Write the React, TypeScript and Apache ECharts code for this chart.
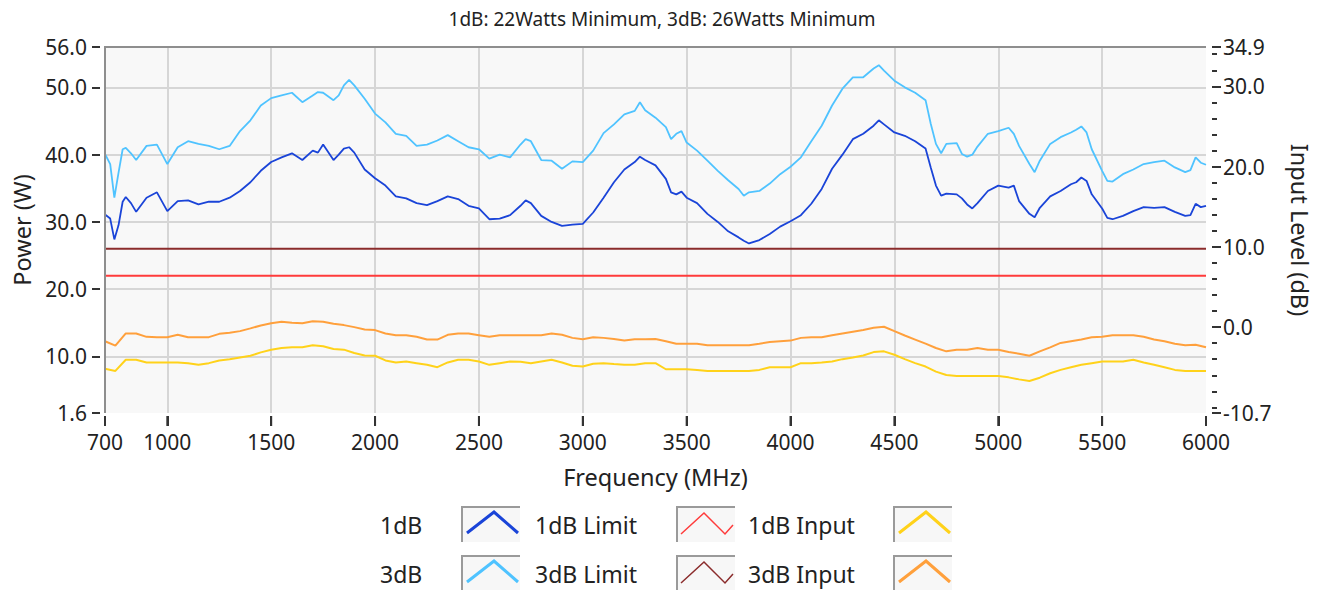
import React, { useEffect, useRef } from 'react';
import * as echarts from 'echarts';

const TITLE = '1dB: 22Watts Minimum, 3dB: 26Watts Minimum';
const X_NAME = 'Frequency (MHz)';
const Y_LEFT_NAME = 'Power (W)';
const Y_RIGHT_NAME = 'Input Level (dB)';

const X_TICKS = [700, 1000, 1500, 2000, 2500, 3000, 3500, 4000, 4500, 5000, 5500, 6000];
const LEFT_TICKS = [1.6, 10, 20, 30, 40, 50, 56];
const RIGHT_TICKS = [-10.7, 0, 10, 20, 30, 34.9];
const RIGHT_MINOR = [-10, -8, -6, -4, -2, 2, 4, 6, 8, 12, 14, 16, 18, 22, 24, 26, 28, 32, 34];

// Frequencies (MHz) for the power curves
const F_PWR = [
  700, 725, 745, 765, 785, 800, 825, 850, 900, 950,
  1000, 1050, 1100, 1150, 1200, 1250, 1300, 1350, 1400, 1450,
  1500, 1550, 1600, 1650, 1700, 1725, 1750, 1800, 1825, 1850,
  1875, 1900, 1950, 2000, 2050, 2100, 2150, 2200, 2250, 2300,
  2350, 2400, 2450, 2500, 2550, 2600, 2650, 2700, 2725, 2750,
  2800, 2850, 2900, 2950, 3000, 3050, 3100, 3150, 3200, 3250,
  3275, 3300, 3350, 3400, 3425, 3450, 3475, 3500, 3550, 3600,
  3650, 3700, 3750, 3775, 3800, 3850, 3900, 3950, 4000, 4050,
  4100, 4150, 4200, 4250, 4300, 4350, 4400, 4425, 4450, 4500,
  4550, 4600, 4650, 4675, 4700, 4725, 4750, 4800, 4825, 4850,
  4875, 4900, 4950, 5000, 5050, 5075, 5100, 5150, 5175, 5200,
  5250, 5300, 5350, 5375, 5400, 5425, 5450, 5500, 5525, 5550,
  5600, 5650, 5700, 5750, 5800, 5850, 5900, 5925, 5950, 5975,
  6000,
];

// 3dB compression power (W)
const P_3DB = [
  40.1, 38.6, 33.6, 37.3, 40.8, 41.0, 40.2, 39.2, 41.3, 41.5,
  38.6, 41.1, 42.0, 41.6, 41.3, 40.8, 41.3, 43.5, 45.1, 47.3,
  48.4, 48.8, 49.2, 47.8, 48.8, 49.3, 49.2, 48.1, 48.8, 50.3,
  51.1, 50.3, 48.3, 46.1, 44.8, 43.1, 42.8, 41.3, 41.5, 42.1,
  42.9, 42.0, 41.1, 40.8, 39.4, 40.0, 39.6, 41.5, 42.3, 42.0,
  39.2, 39.1, 37.9, 39.0, 38.9, 40.6, 43.2, 44.5, 46.0, 46.5,
  47.8, 46.6, 45.5, 44.1, 42.3, 43.1, 43.5, 41.8, 40.6, 39.1,
  37.6, 36.2, 34.9, 33.9, 34.4, 34.6, 35.7, 37.1, 38.2, 39.6,
  42.0, 44.3, 47.3, 49.8, 51.5, 51.5, 52.8, 53.3, 52.5, 51.0,
  50.0, 49.2, 48.1, 44.6, 41.6, 40.2, 41.6, 41.7, 40.1, 39.7,
  40.0, 41.2, 43.1, 43.5, 44.0, 43.1, 41.3, 38.6, 37.4, 39.1,
  41.6, 42.6, 43.3, 43.7, 44.2, 43.3, 40.8, 37.6, 36.1, 36.0,
  37.1, 37.8, 38.6, 38.9, 39.1, 38.1, 37.4, 37.7, 39.6, 38.8,
  38.5,
];

// 1dB compression power (W)
const P_1DB = [
  31.1, 30.5, 27.4, 29.5, 33.0, 33.7, 32.8, 31.5, 33.6, 34.4,
  31.6, 33.1, 33.2, 32.6, 33.0, 33.0, 33.6, 34.6, 35.9, 37.6,
  38.9, 39.6, 40.2, 39.2, 40.6, 40.3, 41.5, 39.2, 40.0, 40.9,
  41.1, 40.3, 37.8, 36.5, 35.4, 33.8, 33.5, 32.8, 32.5, 33.1,
  33.8, 33.4, 32.4, 32.0, 30.4, 30.5, 31.0, 32.4, 33.2, 32.8,
  30.9, 30.0, 29.4, 29.6, 29.7, 31.4, 33.6, 35.9, 37.8, 38.9,
  39.7, 39.2, 38.4, 36.4, 34.4, 34.1, 34.5, 33.6, 32.8, 31.2,
  30.0, 28.6, 27.7, 27.2, 26.8, 27.3, 28.2, 29.3, 30.1, 31.0,
  32.7, 34.9, 37.9, 40.0, 42.3, 43.1, 44.3, 45.1, 44.5, 43.3,
  42.8, 42.0, 40.9, 38.1, 35.4, 33.9, 34.2, 34.1, 33.5, 32.6,
  32.0, 32.8, 34.6, 35.4, 35.1, 35.4, 33.1, 31.2, 30.7, 32.1,
  33.8, 34.6, 35.6, 35.9, 36.6, 36.1, 34.1, 32.0, 30.6, 30.4,
  30.9, 31.6, 32.2, 32.1, 32.2, 31.5, 30.9, 31.0, 32.7, 32.2,
  32.4,
];

// Limits (W)
const LIMIT_1DB = 22;
const LIMIT_3DB = 26;
const LIMIT_SPAN = [700, 6000];

// Frequencies (MHz) for the input level curves
const F_IN = [
  700, 750, 800, 850, 900, 950, 1000, 1050, 1100, 1150,
  1200, 1250, 1300, 1350, 1400, 1450, 1500, 1550, 1600, 1650,
  1700, 1750, 1800, 1850, 1900, 1950, 2000, 2050, 2100, 2150,
  2200, 2250, 2300, 2350, 2400, 2450, 2500, 2550, 2600, 2650,
  2700, 2750, 2800, 2850, 2900, 2950, 3000, 3050, 3100, 3150,
  3200, 3250, 3300, 3350, 3400, 3450, 3500, 3550, 3600, 3650,
  3700, 3750, 3800, 3850, 3900, 3950, 4000, 4050, 4100, 4150,
  4200, 4250, 4300, 4350, 4400, 4450, 4500, 4550, 4600, 4650,
  4700, 4750, 4800, 4850, 4900, 4950, 5000, 5050, 5100, 5150,
  5200, 5250, 5300, 5350, 5400, 5450, 5500, 5550, 5600, 5650,
  5700, 5750, 5800, 5850, 5900, 5950, 6000,
];

// 3dB input level (dB)
const IN_3DB = [
  -1.76, -2.3, -0.79, -0.79, -1.21, -1.25, -1.25, -0.96, -1.25, -1.25,
  -1.25, -0.84, -0.71, -0.5, -0.16, 0.21, 0.47, 0.68, 0.55, 0.47,
  0.72, 0.68, 0.42, 0.25, 0.0, -0.29, -0.37, -0.79, -1.0, -1.0,
  -1.21, -1.55, -1.55, -0.96, -0.79, -0.79, -1.0, -1.21, -1.0, -1.0,
  -1.0, -1.0, -1.0, -0.79, -0.96, -1.34, -1.51, -1.25, -1.34, -1.47,
  -1.68, -1.51, -1.51, -1.47, -1.76, -2.06, -2.06, -2.06, -2.26, -2.26,
  -2.26, -2.26, -2.26, -2.06, -1.85, -1.76, -1.68, -1.34, -1.25, -1.25,
  -1.0, -0.79, -0.58, -0.37, -0.08, 0.05, -0.5, -1.04, -1.55, -2.06,
  -2.6, -3.02, -2.81, -2.81, -2.6, -2.81, -2.81, -3.11, -3.32, -3.57,
  -3.02, -2.52, -1.97, -1.76, -1.55, -1.25, -1.21, -1.0, -1.0, -1.0,
  -1.21, -1.55, -1.76, -2.06, -2.26, -2.2, -2.52,
];

// 1dB input level (dB)
const IN_1DB = [
  -5.2, -5.46, -4.07, -4.07, -4.4, -4.4, -4.4, -4.4, -4.49, -4.7,
  -4.49, -4.15, -3.99, -3.78, -3.57, -3.15, -2.81, -2.6, -2.52, -2.52,
  -2.26, -2.39, -2.73, -2.81, -3.23, -3.53, -3.57, -4.15, -4.4, -4.28,
  -4.49, -4.7, -4.99, -4.4, -4.07, -4.07, -4.28, -4.7, -4.49, -4.28,
  -4.32, -4.49, -4.28, -4.07, -4.4, -4.82, -4.91, -4.57, -4.49, -4.6,
  -4.7, -4.7, -4.49, -4.49, -5.25, -5.25, -5.25, -5.33, -5.46, -5.46,
  -5.46, -5.46, -5.46, -5.33, -5.0, -5.0, -5.0, -4.49, -4.49, -4.4,
  -4.28, -3.99, -3.78, -3.53, -3.11, -3.02, -3.44, -3.99, -4.49, -4.91,
  -5.54, -5.96, -6.09, -6.09, -6.09, -6.09, -6.09, -6.26, -6.51, -6.72,
  -6.3, -5.75, -5.33, -5.0, -4.7, -4.49, -4.28, -4.28, -4.28, -4.07,
  -4.4, -4.7, -5.0, -5.33, -5.46, -5.46, -5.46,
];

const SERIES_NAMES = ['1dB', '1dB Limit', '1dB Input', '3dB', '3dB Limit', '3dB Input'];

const FONT = 'Noto Sans';
const TEXT = '#222222';

const zip = (xs: number[], ys: number[]) => xs.map((x, i) => [x, ys[i]]);

export default function App() {
  const ref = useRef<HTMLDivElement>(null);

  useEffect(() => {
    const chart = echarts.init(ref.current as HTMLDivElement, null, { renderer: 'svg' });

    const gridL = 105, gridT = 47, gridW = 1101, gridH = 366;

    const colors = ['#1a44d8', '#ff3b3b', '#ffd21a', '#4fc3ff', '#8b2c2c', '#ffa03c'];
    const kinds = ['peak', 'zig', 'peak', 'peak', 'zig', 'peak'];
    const swW = [3, 1.5, 3, 3, 1.5, 3];
    const textX = [380, 535, 748];
    const boxX = [462, 677, 894];
    const rowY = [525, 574];
    const boxTop = [507, 556];

    const legendGraphics: any[] = [];
    SERIES_NAMES.forEach((name, i) => {
      const row = Math.floor(i / 3);
      const col = i % 3;
      const bx = boxX[col];
      const by = boxTop[row];
      legendGraphics.push({
        type: 'text', x: textX[col], y: rowY[row],
        style: { text: name, fontSize: 23, fontFamily: FONT, fill: TEXT, verticalAlign: 'middle' },
      });
      legendGraphics.push({
        type: 'rect', shape: { x: bx, y: by, width: 58, height: 35 },
        style: { fill: '#f7f7f7' },
      });
      legendGraphics.push({
        type: 'polyline', shape: { points: [[bx, by + 35], [bx, by], [bx + 58, by]] },
        style: { stroke: '#9a9a9a', lineWidth: 2, fill: null },
      });
      const pts = kinds[i] === 'peak'
        ? [[bx + 5, by + 26], [bx + 32, by + 5], [bx + 56, by + 26]]
        : [[bx + 4, by + 27], [bx + 27, by + 6], [bx + 48, by + 27], [bx + 56, by + 18]];
      legendGraphics.push({
        type: 'polyline', shape: { points: pts },
        style: { stroke: colors[i], lineWidth: swW[i], fill: null },
      });
    });

    const nameStyle = { fontSize: 23.5, color: TEXT, fontFamily: FONT };
    const whiteLine = { show: true, onZero: false, lineStyle: { color: '#ffffff', width: 1 } };

    const option: any = {
      animation: false,
      textStyle: { fontFamily: FONT },
      title: {
        text: TITLE, left: 'center', top: 4,
        textStyle: { fontSize: 19, fontWeight: 'normal', color: TEXT, fontFamily: FONT },
      },
      grid: {
        left: gridL, top: gridT, width: gridW, height: gridH,
        show: true, backgroundColor: '#f8f8f8', borderWidth: 0,
        containLabel: false, outerBoundsMode: 'none',
      },
      xAxis: {
        type: 'value', min: 700, max: 6000, offset: 3,
        name: X_NAME, nameLocation: 'middle', nameGap: 49,
        nameTextStyle: nameStyle,
        axisLine: whiteLine,
        axisTick: { show: true, customValues: X_TICKS, length: 10, lineStyle: { color: '#333333', width: 2 } },
        axisLabel: {
          customValues: X_TICKS, fontSize: 21, color: TEXT, margin: 15,
          showMinLabel: true, showMaxLabel: true, formatter: (v: number) => String(v),
        },
        splitLine: { show: true, showMinLine: false, showMaxLine: false, lineStyle: { color: '#d6d6d6', width: 2 } },
      },
      yAxis: [
        {
          type: 'value', position: 'left', min: 1.6, max: 56, offset: 5,
          name: Y_LEFT_NAME, nameLocation: 'middle', nameGap: 65, nameRotate: 90,
          nameTextStyle: nameStyle,
          axisLine: whiteLine,
          axisTick: { show: true, customValues: LEFT_TICKS, length: 8, lineStyle: { color: '#333', width: 2 } },
          axisLabel: {
            customValues: LEFT_TICKS, fontSize: 21, color: TEXT, margin: 13,
            showMinLabel: true, showMaxLabel: true, formatter: (v: number) => v.toFixed(1),
          },
          splitLine: { show: true, showMinLine: false, showMaxLine: false, lineStyle: { color: '#d6d6d6', width: 2 } },
        },
        {
          type: 'value', position: 'right', min: -10.7, max: 34.9, offset: 6,
          name: Y_RIGHT_NAME, nameLocation: 'middle', nameGap: 76, nameRotate: -90,
          nameTextStyle: nameStyle,
          axisLine: whiteLine,
          axisTick: { show: true, customValues: RIGHT_TICKS, length: 9, lineStyle: { color: '#333', width: 2 } },
          axisLabel: {
            customValues: RIGHT_TICKS, fontSize: 21, color: TEXT, margin: 11,
            showMinLabel: true, showMaxLabel: true, formatter: (v: number) => v.toFixed(1),
          },
          splitLine: { show: false },
        },
        {
          type: 'value', position: 'right', min: -10.7, max: 34.9, offset: 6,
          axisLine: { show: false, onZero: false },
          axisTick: { show: true, customValues: RIGHT_MINOR, length: 5, lineStyle: { color: '#333', width: 2 } },
          axisLabel: { show: false },
          splitLine: { show: false },
        },
      ],
      series: [
        {
          name: SERIES_NAMES[3], type: 'line', yAxisIndex: 0, data: zip(F_PWR, P_3DB),
          showSymbol: false, lineStyle: { color: colors[3], width: 1.8 }, itemStyle: { color: colors[3] },
        },
        {
          name: SERIES_NAMES[0], type: 'line', yAxisIndex: 0, data: zip(F_PWR, P_1DB),
          showSymbol: false, lineStyle: { color: colors[0], width: 1.8 }, itemStyle: { color: colors[0] },
        },
        {
          name: SERIES_NAMES[4], type: 'line', yAxisIndex: 0,
          data: LIMIT_SPAN.map((f) => [f, LIMIT_3DB]),
          showSymbol: false, lineStyle: { color: colors[4], width: 2 }, itemStyle: { color: colors[4] },
        },
        {
          name: SERIES_NAMES[1], type: 'line', yAxisIndex: 0,
          data: LIMIT_SPAN.map((f) => [f, LIMIT_1DB]),
          showSymbol: false, lineStyle: { color: colors[1], width: 2 }, itemStyle: { color: colors[1] },
        },
        {
          name: SERIES_NAMES[5], type: 'line', yAxisIndex: 1, data: zip(F_IN, IN_3DB),
          showSymbol: false, lineStyle: { color: colors[5], width: 2 }, itemStyle: { color: colors[5] },
        },
        {
          name: SERIES_NAMES[2], type: 'line', yAxisIndex: 1, data: zip(F_IN, IN_1DB),
          showSymbol: false, lineStyle: { color: colors[2], width: 2 }, itemStyle: { color: colors[2] },
        },
        {
          // x-axis tick marks, positioned by the x scale, hanging below the plot
          name: 'xticks', type: 'custom', xAxisIndex: 0, yAxisIndex: 0, silent: true, clip: false, z: 10,
          data: X_TICKS.map((v) => [v, LEFT_TICKS[0]]),
          renderItem: (params: any, api: any) => {
            const pt = api.coord([api.value(0), api.value(1)]);
            return {
              type: 'line',
              shape: { x1: pt[0], y1: pt[1] + 3, x2: pt[0], y2: pt[1] + 13 },
              style: { stroke: '#333333', lineWidth: 2 },
            };
          },
        },
      ],
      graphic: [
        {
          type: 'polyline', z: 100,
          shape: { points: [[gridL, gridT + gridH], [gridL, gridT], [gridL + gridW, gridT]] },
          style: { stroke: '#8e8e8e', lineWidth: 2, fill: null },
        },
        ...legendGraphics,
      ],
    };

    chart.setOption(option);
    return () => chart.dispose();
  }, []);

  return (
    <div
      ref={ref}
      style={{ position: 'absolute', left: 0, top: 0, width: 1324, height: 590, background: '#ffffff' }}
    />
  );
}
